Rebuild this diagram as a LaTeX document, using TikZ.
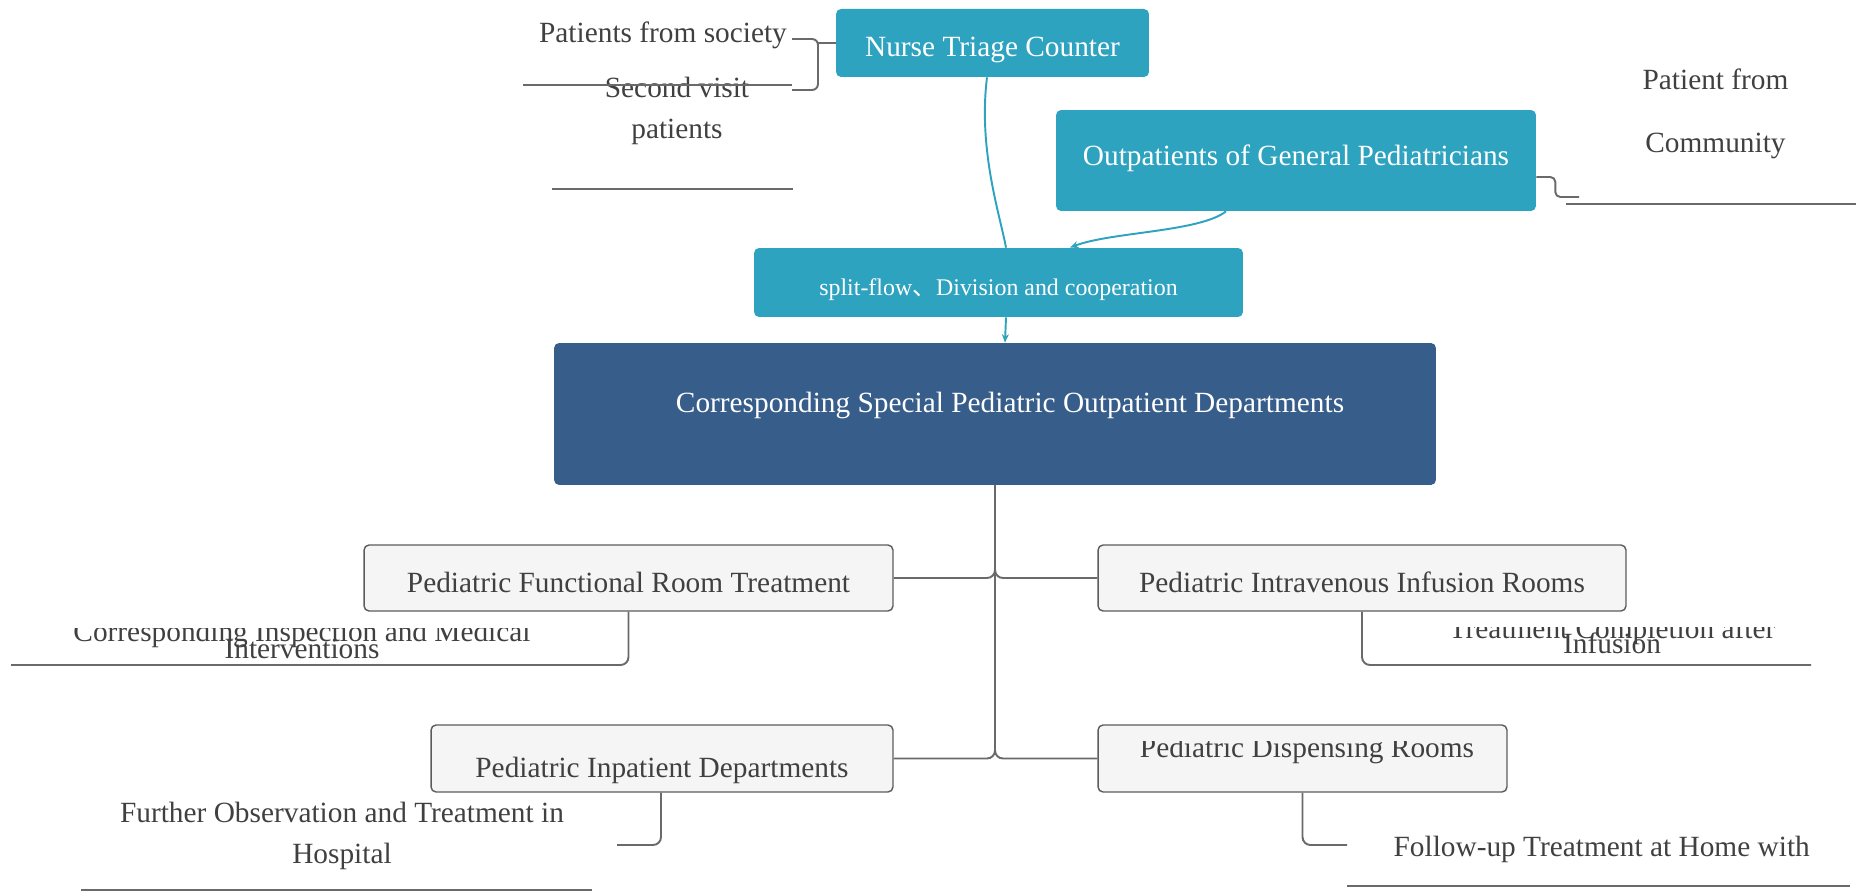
\documentclass[tikz,border=0pt]{standalone}
\usepackage{fontspec}
\setmainfont{Liberation Serif}
\newfontfamily\cjk{Noto Sans CJK SC}
\usetikzlibrary{arrows.meta}
\definecolor{triageteal}{HTML}{2EA3C0}
\definecolor{deptblue}{HTML}{375D8A}
\definecolor{roomfill}{HTML}{F5F5F5}
\definecolor{roomedge}{HTML}{5C5C5C}
\definecolor{branchgrey}{HTML}{6A6A6A}
\definecolor{labelgrey}{HTML}{404040}

\begin{document}
\begin{tikzpicture}[x=0.02cm, y=-0.02cm,
    tealbox/.style={fill=triageteal, text=white, rounded corners=0.1cm, inner sep=0pt, font=\fontsize{16.7}{20}\selectfont},
    deptbox/.style={fill=deptblue, text=white, rounded corners=0.1cm, inner sep=0pt, font=\fontsize{16.7}{20}\selectfont},
    roombox/.style={fill=roomfill, draw=roomedge, line width=0.8pt, rounded corners=0.1cm, text=labelgrey, inner sep=0pt, font=\fontsize{16.7}{20}\selectfont},
    leaf/.style={text=labelgrey, align=center, inner sep=0pt, font=\fontsize{16.7}{23.3}\selectfont},
    branch/.style={draw=branchgrey, line width=1.1pt, rounded corners=0.16cm},
    flowline/.style={draw=triageteal, line width=1.1pt},
    flow/.style={flowline, -{Stealth[length=0.17cm,width=0.14cm]}},
  ]
    \useasboundingbox (0,0) rectangle (1861,891);

    % entry boxes
    \node[tealbox, minimum width=6.26cm, minimum height=1.36cm, text height=0.67cm, text depth=0.12cm] (triage) at (992.5,43) {Nurse Triage Counter};
    \node[tealbox, minimum width=9.6cm, minimum height=2.02cm, text height=0.34cm, text depth=0.12cm] (general) at (1296,160.5) {Outpatients of General Pediatricians};
    \node[tealbox, minimum width=9.78cm, minimum height=1.38cm, text height=0.65cm, text depth=0.12cm, font=\fontsize{13.6}{16}\selectfont] (split) at (998.5,282.5) {split-flow{\cjk 、}Division and cooperation};
    \node[deptbox, minimum width=17.64cm, minimum height=2.84cm, text height=0.4cm, text depth=0.44cm] (special) at (995,414) {\hspace*{0.6cm}Corresponding Special Pediatric Outpatient Departments};

    % rooms
    \node[roombox, minimum width=10.58cm, minimum height=1.32cm, text height=0.7cm, text depth=0.12cm] (functional) at (628.5,578) {Pediatric Functional Room Treatment};
    \node[roombox, minimum width=10.56cm, minimum height=1.32cm, text height=0.7cm, text depth=0.12cm] (infusion) at (1362,578) {Pediatric Intravenous Infusion Rooms};
    \node[roombox, minimum width=9.24cm, minimum height=1.34cm, text height=0.88cm, text depth=0.12cm] (inpatient) at (662,758.5) {Pediatric Inpatient Departments};
    \node[roombox, minimum width=8.18cm, minimum height=1.34cm] (dispensing) at (1302.5,758.5) {};
    \begin{scope}
      \clip (1098,741.5) rectangle (1507,792);
      \node[leaf, anchor=base] (dispensingtext) at (1307,757) {Pediatric Dispensing Rooms};
    \end{scope}

    % leaves
    \node[leaf, anchor=base] (society) at (663,42.7) {Patients from society};
    \node[leaf] (secondvisit) at (677,110.8) {Second visit\\patients};
    \node[leaf] (community) at (1715.5,113.7) {Patient from\\[12.3pt]Community};
    \begin{scope}
      \clip (0,628) rectangle (900,700);
      \node[leaf] (inspection) at (302,640) {Corresponding Inspection and Medical\\[-14pt]Interventions};
    \end{scope}
    \begin{scope}
      \clip (1300,627) rectangle (1861,700);
      \node[leaf] (completion) at (1612,636) {Treatment Completion after\\[-14.8pt]Infusion};
    \end{scope}
    \node[leaf] (hospital) at (342,836) {Further Observation and Treatment in\\Hospital};
    \node[leaf, anchor=base] (home) at (1601.7,856.7) {Follow-up Treatment at Home with};

    % flow into the departments
    \draw[flowline] ([xshift=-0.11cm]triage.south) .. controls (978,150) and (1000,215) .. ([xshift=0.15cm]split.north);
    \draw[flow] ([xshift=-1.4cm]general.south) .. controls (1200,232) and (1110,232) .. ([xshift=1.43cm]split.north);
    \draw[flow] ([xshift=0.15cm]split.south) -- ([xshift=0.2cm]special.north);

    % sources of patients
    \coordinate (triagefork) at (818,43);
    \coordinate (societyend) at (792,39);
    \coordinate (secondend) at (792,90);
    \draw[branch] (triage.west) -- (triagefork);
    \draw[branch, rounded corners=0.12cm] (societyend) -| (triagefork |- secondend) -- (secondend);
    \draw[branch] (523,85) -- (792,85);
    \draw[branch] (552,189) -- (793,189);
    \coordinate (communityend) at (1579,197);
    \draw[branch, rounded corners=0.1cm] ([yshift=-0.33cm]general.east) -- ++(19,0) |- (communityend);
    \draw[branch] (1566,204) -- (1856,204);

    % trunk to the rooms
    \foreach \room/\side in {functional/east, infusion/west, inpatient/east, dispensing/west}
      \draw[branch] (special.south) |- (\room.\side);

    % what follows each room
    \coordinate (inspectionend) at (11,665);
    \coordinate (completionend) at (1811,665);
    \coordinate (hospitalend) at (617,845);
    \coordinate (homeend) at (1347,845);
    \draw[branch] (functional.south) |- (inspectionend);
    \draw[branch] (infusion.south) |- (completionend);
    \draw[branch] ([xshift=-0.02cm]inpatient.south) |- (hospitalend);
    \draw[branch] (dispensing.south) |- (homeend);
    \draw[branch] (81,890) -- (592,890);
    \draw[branch] (1347,886) -- (1850,886);
\end{tikzpicture}
\end{document}
